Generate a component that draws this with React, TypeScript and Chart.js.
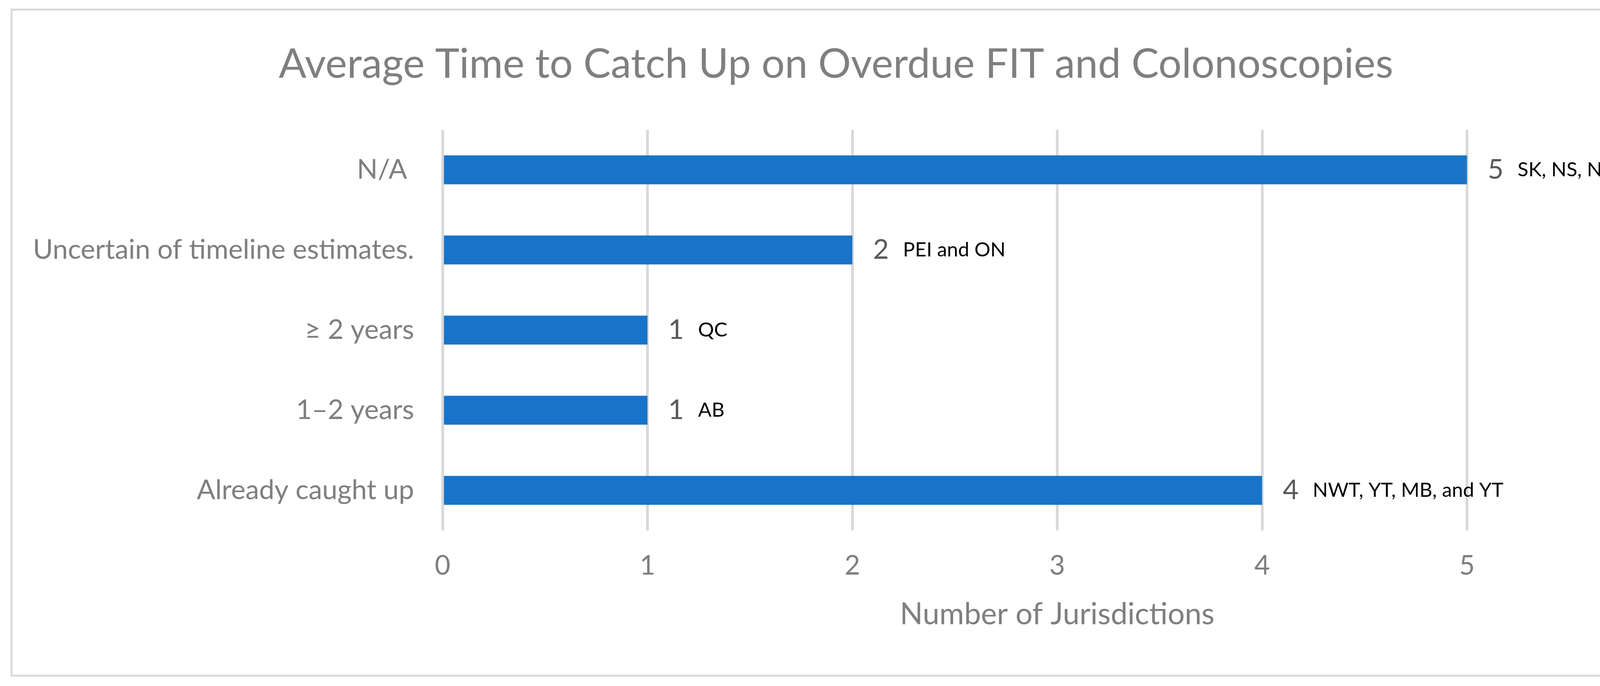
import React, { useEffect, useRef } from "react";
import { Chart, registerables } from "chart.js";

Chart.register(...registerables);

const categories = [
  "N/A ",
  "Uncertain of timeline estimates.",
  "\u2265 2 years",
  "1\u20132 years",
  "Already caught up",
];
const values = [5, 2, 1, 1, 4];
const jurisdictions = [
  "SK, NS, NB, NL, NU",
  "PEI and ON",
  "QC",
  "AB",
  "NWT, YT, MB, and YT",
];
const xTicks = [0, 1, 2, 3, 4, 5, 6];

const chartTitle = "Average Time to Catch Up on Overdue FIT and Colonoscopies";
const xAxisTitle = "Number of Jurisdictions";

const FONT = "Lato";
const GRAY = "#7f7f7f";

const labelPlugin = {
  id: "barLabels",
  afterDatasetsDraw(chart: any) {
    const ctx = chart.ctx;
    const meta = chart.getDatasetMeta(0);
    ctx.save();
    ctx.textBaseline = "middle";
    ctx.textAlign = "left";
    meta.data.forEach((bar: any, i: number) => {
      const x0 = bar.x + 53;
      const y = bar.y;
      ctx.font = `70px ${FONT}`;
      ctx.fillStyle = "#595959";
      const v = String(values[i]);
      ctx.fillText(v, x0, y);
      const w = ctx.measureText(v).width;
      ctx.font = `51px ${FONT}`;
      ctx.fillStyle = "#000000";
      ctx.fillText(jurisdictions[i], x0 + w + 36, y);
    });
    ctx.restore();
  },
};

export default function App() {
  const ref = useRef<HTMLCanvasElement | null>(null);

  useEffect(() => {
    if (!ref.current) return;
    const chart = new Chart(ref.current, {
      type: "bar",
      data: {
        labels: categories,
        datasets: [
          {
            data: values,
            backgroundColor: "#1874c8",
            borderWidth: 0,
            categoryPercentage: 1,
            barPercentage: 0.36,
          },
        ],
      },
      options: {
        indexAxis: "y",
        animation: false,
        responsive: false,
        devicePixelRatio: 1,
        layout: { padding: { left: 0, right: 150, top: 0, bottom: 0 } },
        plugins: {
          legend: { display: false },
          tooltip: { enabled: false },
          title: {
            display: true,
            text: chartTitle,
            color: GRAY,
            font: { family: FONT, size: 105, weight: "normal" },
            padding: { top: 102, bottom: 104 },
          },
        },
        scales: {
          x: {
            min: 0,
            max: 6,
            afterBuildTicks(scale: any) {
              scale.ticks = xTicks.map((v) => ({ value: v }));
            },
            afterFit(scale: any) {
              scale.height = 1755 - 1357;
            },
            grid: { color: "#d9d9d9", lineWidth: 7, drawTicks: false },
            border: { display: false },
            ticks: {
              color: GRAY,
              padding: 49,
              font: { family: FONT, size: 69 },
            },
            title: {
              display: true,
              text: xAxisTitle,
              color: GRAY,
              font: { family: FONT, size: 77 },
              padding: { top: 0, bottom: 137 },
            },
          },
          y: {
            afterFit(scale: any) {
              scale.width = 1133;
            },
            grid: { display: false, drawTicks: false },
            border: { display: false },
            ticks: {
              color: GRAY,
              padding: 73,
              font: { family: FONT, size: 70 },
            },
          },
        },
      },
      plugins: [labelPlugin],
    });
    return () => chart.destroy();
  }, []);

  return (
    <div
      style={{
        position: "fixed",
        left: 0,
        top: 0,
        width: 4430,
        height: 1755,
        background: "#ffffff",
      }}
    >
      <div
        style={{
          position: "absolute",
          left: 27,
          top: 22,
          width: 4364,
          height: 1709,
          border: "5px solid #d9d9d9",
          boxSizing: "border-box",
        }}
      />
      <canvas
        ref={ref}
        width={4430}
        height={1755}
        style={{ position: "absolute", left: 0, top: 0, width: 4430, height: 1755 }}
      />
    </div>
  );
}
